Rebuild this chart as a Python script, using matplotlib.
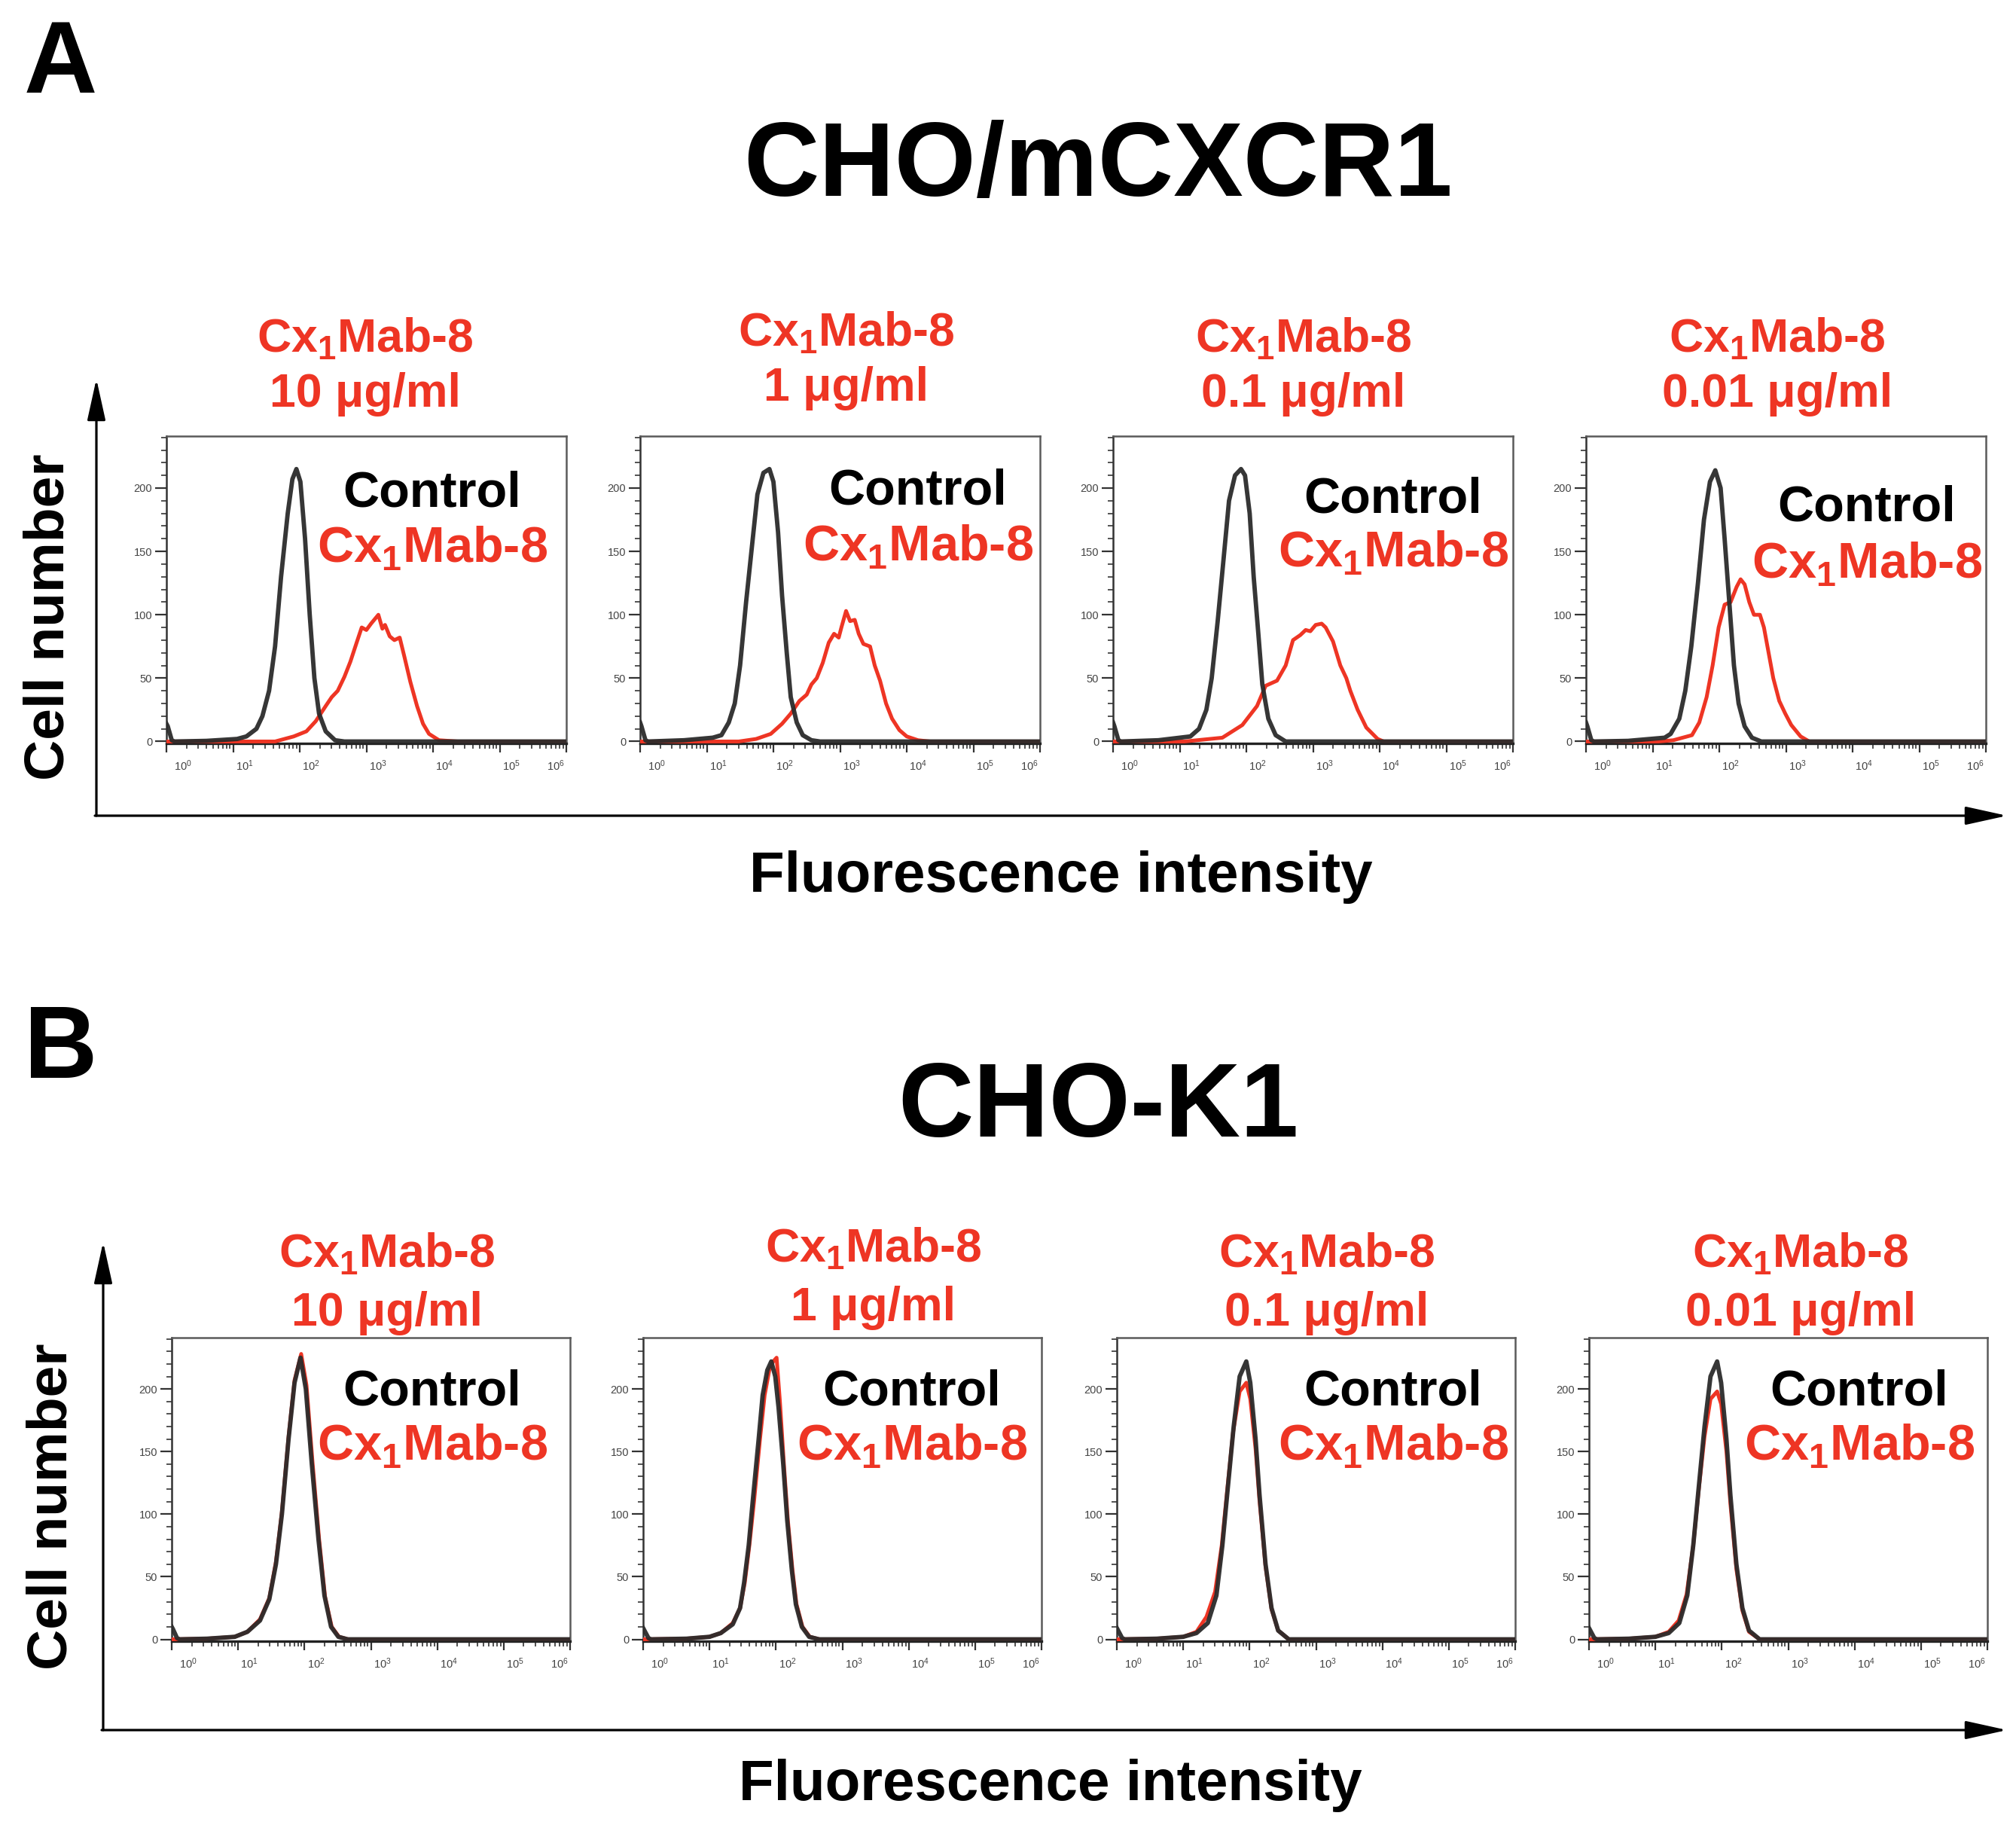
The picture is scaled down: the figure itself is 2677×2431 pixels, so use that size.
import numpy as np
import matplotlib
matplotlib.use('Agg')
import matplotlib.pyplot as plt
from matplotlib.patches import FancyArrowPatch
from matplotlib.ticker import FixedLocator, LogLocator, NullFormatter, FixedFormatter, MultipleLocator
import matplotlib.transforms as mtransforms

plt.rcParams['font.family'] = ['Liberation Sans', 'DejaVu Sans']

W, H, DPI = 2677, 2431, 100

# ---------------- data (x = log10 fluorescence, y = cell count) ----------------
decades = [0, 1, 2, 3, 4, 5, 6]
y_major = [0, 50, 100, 150, 200]
conc_labels = ['10 μg/ml', '1 μg/ml', '0.1 μg/ml', '0.01 μg/ml']
panel_titles = ['CHO/mCXCR1', 'CHO-K1']
label_control = 'Control'
label_mab = r'Cx$_{\mathregular{1}}$Mab-8'

# Panel A (CHO/mCXCR1)
A1_ctrl_x = [0, 0.02, 0.08, 0.12, 0.60, 1.06, 1.20, 1.35, 1.44, 1.54, 1.63, 1.72, 1.82, 1.89, 1.95, 2.01, 2.08, 2.15, 2.22, 2.29, 2.39, 2.53, 2.67, 6]
A1_ctrl_y = [14, 12, 1, 0, 0.5, 2, 4, 10, 20, 40, 75, 130, 180, 207, 215, 205, 160, 100, 50, 22, 8, 1, 0, 0]
A1_mab_x = [0, 1.63, 1.91, 2.10, 2.24, 2.39, 2.48, 2.57, 2.67, 2.76, 2.86, 2.93, 3.00, 3.07, 3.18, 3.24, 3.28, 3.35, 3.42, 3.50, 3.57, 3.66, 3.76, 3.85, 3.94, 4.09, 4.37, 6]
A1_mab_y = [0, 0, 4, 8, 16, 28, 35, 40, 51, 63, 79, 90, 88, 93, 100, 89, 92, 83, 80, 82, 67, 47, 28, 14, 6, 1, 0, 0]

A2_ctrl_x = [0, 0.02, 0.08, 0.12, 0.66, 1.09, 1.22, 1.33, 1.42, 1.50, 1.59, 1.68, 1.76, 1.85, 1.94, 2.00, 2.07, 2.13, 2.20, 2.26, 2.35, 2.44, 2.57, 2.70, 6]
A2_ctrl_y = [15, 12, 1, 0, 1, 3, 5, 15, 30, 60, 110, 155, 195, 212, 215, 205, 165, 115, 70, 35, 15, 5, 1, 0, 0]
A2_mab_x = [0, 1.48, 1.74, 1.96, 2.13, 2.26, 2.39, 2.50, 2.57, 2.65, 2.74, 2.83, 2.91, 2.98, 3.02, 3.09, 3.15, 3.22, 3.28, 3.35, 3.45, 3.52, 3.60, 3.69, 3.78, 3.89, 4.00, 4.17, 4.35, 6]
A2_mab_y = [0, 0, 2, 6, 14, 22, 32, 37, 45, 50, 62, 78, 85, 82, 90, 103, 95, 96, 85, 77, 75, 60, 48, 30, 18, 9, 4, 1, 0, 0]

A3_ctrl_x = [0, 0.02, 0.08, 0.12, 0.68, 1.16, 1.29, 1.40, 1.48, 1.57, 1.66, 1.74, 1.83, 1.92, 1.98, 2.05, 2.11, 2.18, 2.24, 2.33, 2.44, 2.59, 6]
A3_ctrl_y = [15, 12, 1, 0, 1, 4, 10, 25, 50, 95, 145, 190, 210, 215, 210, 180, 130, 85, 45, 18, 5, 0, 0]
A3_mab_x = [0, 1.07, 1.64, 1.94, 2.16, 2.29, 2.46, 2.59, 2.70, 2.81, 2.89, 2.96, 3.04, 3.13, 3.19, 3.30, 3.41, 3.50, 3.56, 3.67, 3.80, 3.97, 4.06, 6]
A3_mab_y = [0, 0, 3, 13, 28, 44, 48, 60, 80, 84, 88, 87, 92, 93, 90, 79, 60, 50, 40, 25, 11, 2, 0, 0]

A4_ctrl_x = [0, 0.02, 0.08, 0.12, 0.63, 1.18, 1.27, 1.40, 1.49, 1.58, 1.68, 1.77, 1.86, 1.94, 2.02, 2.08, 2.15, 2.22, 2.29, 2.38, 2.49, 2.63, 6]
A4_ctrl_y = [15, 12, 1, 0, 0.5, 3, 6, 18, 40, 75, 125, 175, 205, 214, 200, 160, 110, 60, 30, 12, 3, 0, 0]
A4_mab_x = [0, 1.09, 1.31, 1.59, 1.70, 1.81, 1.90, 1.99, 2.08, 2.17, 2.26, 2.32, 2.38, 2.45, 2.52, 2.61, 2.67, 2.74, 2.81, 2.90, 2.99, 3.08, 3.22, 3.35, 6]
A4_mab_y = [0, 0, 1, 5, 15, 35, 60, 90, 108, 110, 122, 128, 124, 110, 100, 100, 90, 70, 50, 32, 22, 13, 4, 0, 0]

# Panel B (CHO-K1)
B1_ctrl_x = [0, 0.02, 0.08, 0.12, 0.53, 0.95, 1.14, 1.33, 1.47, 1.57, 1.66, 1.76, 1.85, 1.94, 2.02, 2.11, 2.21, 2.30, 2.40, 2.51, 2.65, 6]
B1_ctrl_y = [10, 8, 1, 0, 0.5, 2, 6, 15, 32, 60, 100, 160, 205, 225, 200, 140, 80, 35, 10, 2, 0, 0]
B1_mab_x = [0, 0.53, 0.95, 1.14, 1.33, 1.47, 1.57, 1.66, 1.76, 1.85, 1.95, 2.03, 2.12, 2.22, 2.31, 2.41, 2.52, 2.66, 6]
B1_mab_y = [0, 0.5, 2, 6, 16, 33, 62, 102, 162, 207, 228, 203, 142, 80, 34, 10, 2, 0, 0]

B2_ctrl_x = [0, 0.02, 0.08, 0.12, 0.65, 1.00, 1.17, 1.35, 1.46, 1.52, 1.59, 1.65, 1.74, 1.80, 1.87, 1.93, 1.99, 2.04, 2.11, 2.17, 2.24, 2.30, 2.39, 2.50, 2.65, 6]
B2_ctrl_y = [9, 7, 1, 0, 0.5, 2, 5, 12, 25, 45, 75, 110, 160, 195, 215, 222, 210, 185, 140, 95, 55, 28, 10, 2, 0, 0]
B2_mab_x = [0, 0.65, 1.00, 1.17, 1.35, 1.46, 1.53, 1.60, 1.67, 1.76, 1.83, 1.90, 1.96, 2.01, 2.06, 2.12, 2.18, 2.25, 2.31, 2.40, 2.51, 2.66, 6]
B2_mab_y = [0, 0.5, 2, 5, 13, 25, 45, 75, 110, 160, 195, 215, 222, 225, 190, 140, 95, 55, 28, 10, 2, 0, 0]

B3_ctrl_x = [0, 0.02, 0.08, 0.12, 0.60, 1.00, 1.20, 1.37, 1.50, 1.59, 1.67, 1.76, 1.85, 1.95, 2.01, 2.09, 2.15, 2.24, 2.33, 2.43, 2.59, 6]
B3_ctrl_y = [9, 7, 1, 0, 0.5, 2, 5, 13, 35, 75, 120, 170, 210, 222, 205, 160, 115, 60, 25, 7, 0, 0]
B3_mab_x = [0, 0.60, 1.00, 1.20, 1.35, 1.48, 1.58, 1.66, 1.75, 1.85, 1.95, 2.01, 2.09, 2.15, 2.24, 2.33, 2.43, 2.59, 6]
B3_mab_y = [0, 0.5, 2, 6, 18, 38, 75, 118, 165, 198, 205, 192, 152, 110, 58, 24, 7, 0, 0]

B4_ctrl_x = [0, 0.02, 0.08, 0.12, 0.60, 1.00, 1.20, 1.36, 1.48, 1.57, 1.65, 1.74, 1.83, 1.93, 1.99, 2.07, 2.13, 2.22, 2.31, 2.41, 2.57, 6]
B4_ctrl_y = [9, 7, 1, 0, 0.5, 2, 5, 13, 35, 75, 120, 170, 210, 222, 205, 160, 115, 60, 25, 7, 0, 0]
B4_mab_x = [0, 0.60, 1.00, 1.20, 1.35, 1.47, 1.57, 1.65, 1.74, 1.83, 1.93, 1.99, 2.07, 2.13, 2.22, 2.31, 2.41, 2.57, 6]
B4_mab_y = [0, 0.5, 2, 6, 15, 36, 75, 118, 162, 192, 198, 188, 150, 108, 56, 23, 6, 0, 0]

# ---------------- styling ----------------
RED = '#EE3524'
DARK = '#2b2b2b'

fig = plt.figure(figsize=(W / DPI, H / DPI), dpi=DPI)
fig.patch.set_facecolor('white')

def fx(px):
    return px / W

def fy(py):
    return 1 - py / H

def make_axes(left, top, bottom, width):
    return fig.add_axes([fx(left), fy(bottom), width / W, (bottom - top) / H])

def style_axes(ax):
    ax.set_xscale('log')
    ax.set_xlim(10 ** decades[0], 10 ** decades[-1])
    ax.set_ylim(-1.5, 241)
    ax.xaxis.set_major_locator(FixedLocator([10 ** d for d in decades]))
    ax.xaxis.set_minor_locator(LogLocator(base=10, subs=np.arange(2, 10), numticks=20))
    ax.xaxis.set_minor_formatter(NullFormatter())
    ax.xaxis.set_major_formatter(FixedFormatter([r'$\mathregular{10^{%d}}$' % d for d in decades]))
    ax.yaxis.set_major_locator(FixedLocator(y_major))
    ax.yaxis.set_minor_locator(MultipleLocator(10))
    ax.tick_params(which='major', direction='out', length=10.5, width=1.6, color='#333',
                   labelsize=10.5, labelcolor='#444', pad=3)
    ax.tick_params(which='minor', direction='out', length=5, width=1.3, color='#444')
    ax.tick_params(axis='x', which='major', length=8.5, pad=6)
    for s in ax.spines.values():
        s.set_color('#5a5a5a')
        s.set_linewidth(1.8)
    ax.spines['bottom'].set_color('#222')
    ax.spines['bottom'].set_linewidth(2.4)
    ax.spines['left'].set_color('#333')
    dxs = [22, 15, 15, 15, 15, 15, -14]
    for lab, dx in zip(ax.get_xticklabels(), dxs):
        lab.set_transform(lab.get_transform() + mtransforms.ScaledTranslation(dx / DPI, 0, fig.dpi_scale_trans))

panels = {
    'A': dict(
        lefts=[221, 850, 1478, 2106], width=531, top=579, bottom=987,
        ctrl=[(A1_ctrl_x, A1_ctrl_y), (A2_ctrl_x, A2_ctrl_y), (A3_ctrl_x, A3_ctrl_y), (A4_ctrl_x, A4_ctrl_y)],
        mab=[(A1_mab_x, A1_mab_y), (A2_mab_x, A2_mab_y), (A3_mab_x, A3_mab_y), (A4_mab_x, A4_mab_y)],
        in_cx=[574, 1219, 1850, 2479], in_ctrl_base=[673, 670, 680, 691], in_mab_base=[747, 745, 753, 768],
        sub_cx=[485, 1124, 1731, 2360], sub1_base=[468, 460, 468, 468], sub2_base=[540, 532, 540, 540],
        letter_base=123, title_base=260, ylabel=(65, 819), xlabel=(1409, 1184),
        arrow_x=128, arrow_y=1083, arrow_top=503,
    ),
    'B': dict(
        lefts=[228, 854, 1483, 2110], width=529, top=1776, bottom=2179,
        ctrl=[(B1_ctrl_x, B1_ctrl_y), (B2_ctrl_x, B2_ctrl_y), (B3_ctrl_x, B3_ctrl_y), (B4_ctrl_x, B4_ctrl_y)],
        mab=[(B1_mab_x, B1_mab_y), (B2_mab_x, B2_mab_y), (B3_mab_x, B3_mab_y), (B4_mab_x, B4_mab_y)],
        in_cx=[574, 1211, 1850, 2469], in_ctrl_base=[1866, 1866, 1866, 1866], in_mab_base=[1939, 1939, 1939, 1939],
        sub_cx=[514, 1160, 1762, 2391], sub1_base=[1683, 1676, 1683, 1683], sub2_base=[1760, 1753, 1760, 1760],
        letter_base=1431, title_base=1509, ylabel=(69, 2000), xlabel=(1395, 2390),
        arrow_x=137, arrow_y=2297, arrow_top=1649,
    ),
}

for key, p in panels.items():
    for i in range(4):
        ax = make_axes(p['lefts'][i], p['top'], p['bottom'], p['width'])
        mx, my = p['mab'][i]
        cx, cy = p['ctrl'][i]
        ax.plot(10 ** np.array(mx), my, color=RED, lw=3.6, zorder=3, solid_joinstyle='round')
        ax.plot(10 ** np.array(cx), cy, color=DARK, lw=4.2, zorder=4, alpha=0.95, solid_joinstyle='round')
        style_axes(ax)
        # in-panel legend labels
        fig.text(fx(p['in_cx'][i]), fy(p['in_ctrl_base'][i]), label_control, color='black',
                 fontsize=48, fontweight='bold', ha='center', va='baseline')
        fig.text(fx(p['in_cx'][i]), fy(p['in_mab_base'][i]), label_mab, color=RED,
                 fontsize=48, fontweight='bold', ha='center', va='baseline')
        # concentration headers
        fig.text(fx(p['sub_cx'][i]), fy(p['sub1_base'][i]), label_mab, color=RED,
                 fontsize=45, fontweight='bold', ha='center', va='baseline')
        fig.text(fx(p['sub_cx'][i]), fy(p['sub2_base'][i]), conc_labels[i], color=RED,
                 fontsize=45, fontweight='bold', ha='center', va='baseline')

    # panel letter and title
    fig.text(fx(32), fy(p['letter_base']), key, fontsize=97, fontweight='bold', ha='left', va='baseline')
    fig.text(fx(1458), fy(p['title_base']), panel_titles[0 if key == 'A' else 1], fontsize=100,
             fontweight='bold', ha='center', va='baseline')
    # axis titles
    fig.text(fx(p['ylabel'][0]), fy(p['ylabel'][1]), 'Cell number', fontsize=54, fontweight='bold',
             rotation=90, ha='center', va='center')
    fig.text(fx(p['xlabel'][0]), fy(p['xlabel'][1]), 'Fluorescence intensity', fontsize=55,
             fontweight='bold', ha='center', va='baseline')
    # arrows
    for start, end in [((p['arrow_x'], p['arrow_y']), (p['arrow_x'], p['arrow_top'])),
                       ((p['arrow_x'] - 2, p['arrow_y']), (2665, p['arrow_y']))]:
        arr = FancyArrowPatch((fx(start[0]), fy(start[1])), (fx(end[0]), fy(end[1])),
                              transform=fig.transFigure, arrowstyle='-|>,head_length=3.4,head_width=0.75',
                              mutation_scale=10, lw=2.3, color='black', shrinkA=0, shrinkB=0)
        fig.add_artist(arr)

fig.savefig('out.png', dpi=DPI, facecolor='white')
